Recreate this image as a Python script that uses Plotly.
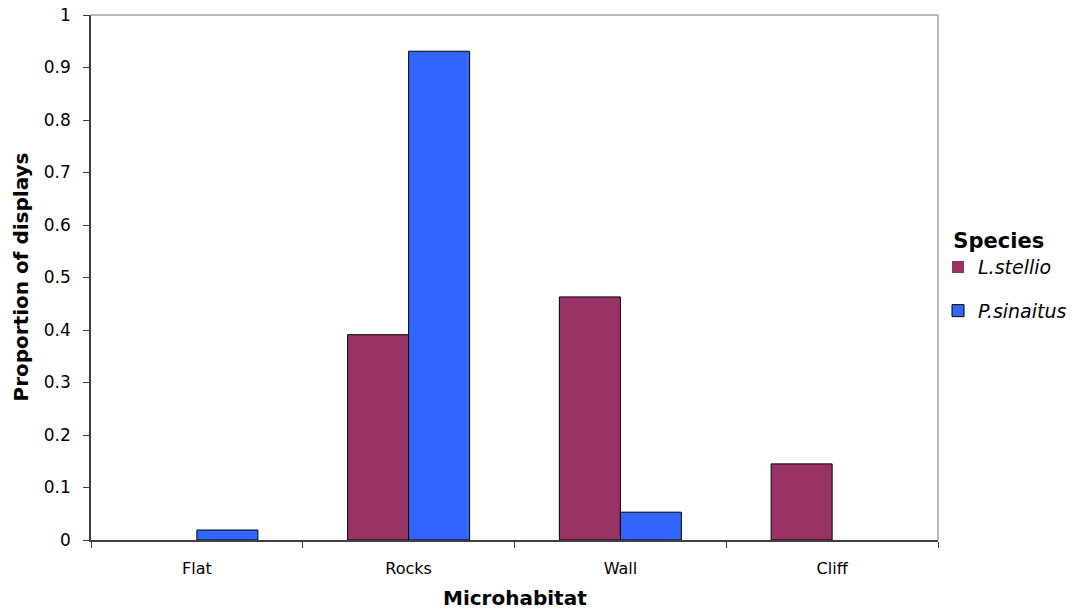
import plotly.graph_objects as go

categories = ["Flat", "Rocks", "Wall", "Cliff"]
l_stellio = [0.0, 0.391, 0.463, 0.145]
p_sinaitus = [0.019, 0.931, 0.053, 0.0]
y_ticks = [0, 0.1, 0.2, 0.3, 0.4, 0.5, 0.6, 0.7, 0.8, 0.9, 1]
y_tick_labels = ["0", "0.1", "0.2", "0.3", "0.4", "0.5", "0.6", "0.7", "0.8", "0.9", "1"]

FONT = "DejaVu Sans, Verdana, sans-serif"


def edge_widths(vals):
    return [1 if v > 0 else 0 for v in vals]


fig = go.Figure()
fig.add_trace(go.Bar(x=categories, y=l_stellio, name="<i>L.stellio</i>", legendgroup="a",
                     marker=dict(color="#993366",
                                 line=dict(color="black", width=edge_widths(l_stellio)))))
fig.add_trace(go.Bar(x=categories, y=p_sinaitus, name="<i>P.sinaitus</i>", legendgroup="b",
                     marker=dict(color="#3366FF",
                                 line=dict(color="black", width=edge_widths(p_sinaitus)))))

fig.update_layout(
    width=1082, height=612,
    margin=dict(l=91, r=144, t=15, b=72, autoexpand=False),
    plot_bgcolor="white", paper_bgcolor="white",
    barmode="group", bargap=0.424, bargroupgap=0,
    font=dict(family=FONT, size=16, color="black"),
    legend=dict(
        title=dict(text="&nbsp;&nbsp;<b>Species</b>", font=dict(size=21)),
        x=1.0, xanchor="left", y=0.608, yanchor="top",
        font=dict(size=19), traceorder="grouped", tracegroupgap=16,
        itemwidth=30, bgcolor="rgba(0,0,0,0)",
    ),
    shapes=[
        dict(type="line", xref="x domain", yref="y domain", x0=0, x1=1, y0=1, y1=1,
             line=dict(color="#a0a0a0", width=1.5)),
        dict(type="line", xref="x domain", yref="y domain", x0=1, x1=1, y0=0, y1=1,
             line=dict(color="#a0a0a0", width=1.5)),
    ],
    annotations=[
        dict(text="<b>Microhabitat</b>", xref="paper", yref="paper", x=0.5, y=0,
             yshift=-58, showarrow=False, font=dict(size=20), yanchor="middle"),
        dict(text="<b>Proportion of displays</b>", xref="paper", yref="paper", x=0, y=0.5,
             xshift=-71, showarrow=False, font=dict(size=20), textangle=-90,
             xanchor="center"),
    ],
)

fig.update_xaxes(
    showgrid=False, showline=True, linecolor="#404040", linewidth=1.5,
    ticks="outside", ticklen=6, tickcolor="#404040", tickson="boundaries",
    tickfont=dict(size=16), ticklabelstandoff=13, automargin=False,
    ticklabeloverflow="allow",
)
fig.update_yaxes(
    range=[0, 1], tickvals=y_ticks, ticktext=y_tick_labels,
    showgrid=False, showline=True, linecolor="#404040", linewidth=1.5,
    ticks="outside", ticklen=6, tickcolor="#404040", zeroline=False,
    tickfont=dict(size=17), ticklabelstandoff=9, automargin=False,
    ticklabeloverflow="allow",
)

fig.write_html("out.html", config={"displayModeBar": False},
               post_script="document.body.style.margin='0';")
